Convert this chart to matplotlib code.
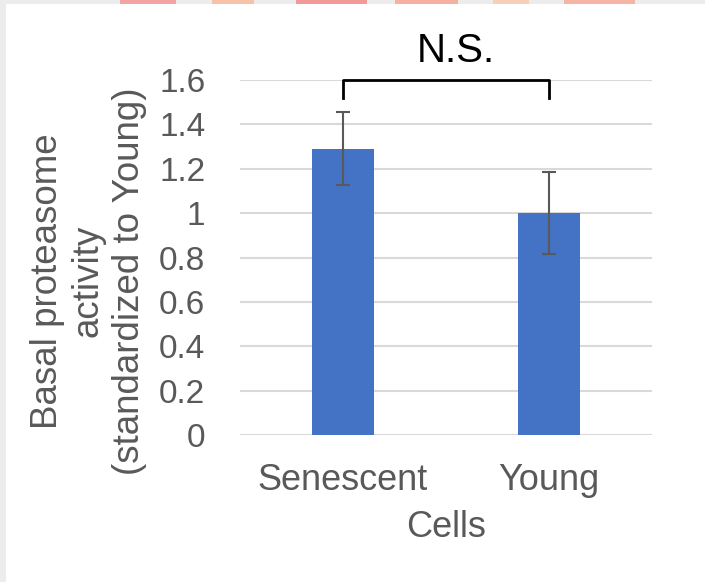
import matplotlib.pyplot as plt
from matplotlib.patches import Rectangle

plt.rcParams['font.family'] = ['Liberation Sans', 'DejaVu Sans']

categories = ['Senescent', 'Young']
activity = [1.29, 1.00]
errors = [0.165, 0.185]
yticks = [0, 0.2, 0.4, 0.6, 0.8, 1, 1.2, 1.4, 1.6]
ytick_labels = ['0', '0.2', '0.4', '0.6', '0.8', '1', '1.2', '1.4', '1.6']

grey = '#595959'

fig = plt.figure(figsize=(7.05, 5.82), dpi=100, facecolor='#ececec')
# white page area with a strip of the decorative header above it
fig.patches.append(Rectangle((6 / 705, 0), 1, 1 - 4 / 582, transform=fig.transFigure,
                             facecolor='white', edgecolor='none', zorder=-10))
for x0, w, c in [(0.17, 0.08, '#f4a3a3'), (0.30, 0.06, '#f7c3a8'), (0.42, 0.10, '#f29a9a'),
                 (0.56, 0.09, '#f6b0a0'), (0.70, 0.05, '#f8d0b8'), (0.80, 0.10, '#f5b5a5')]:
    fig.patches.append(Rectangle((x0, 1 - 4 / 582), w, 4 / 582, transform=fig.transFigure,
                                 facecolor=c, edgecolor='none', zorder=-10))

ax = fig.add_axes([240 / 705, 147 / 582, 412 / 705, 355 / 582])
ax.set_facecolor('none')

x = list(range(len(categories)))
ax.bar(x, activity, width=0.305, color='#4472C4', zorder=2)
ax.errorbar(x, activity, yerr=errors, fmt='none', ecolor=grey, elinewidth=1.5,
            capsize=5, capthick=1.5, zorder=3)

ax.set_xlim(-0.5, 1.5)
ax.set_ylim(0, 1.6)
ax.set_yticks(yticks)
ax.set_yticklabels(ytick_labels)
ax.set_xticks(x)
ax.set_xticklabels(categories)
ax.tick_params(axis='y', length=0, labelsize=24, labelcolor=grey, pad=25)
ax.tick_params(axis='x', length=0, labelsize=26, labelcolor=grey, pad=20)
ax.grid(axis='y', color='#d9d9d9', linewidth=1.5, zorder=0)
ax.set_axisbelow(True)
for s in ax.spines.values():
    s.set_visible(False)

ax.set_xlabel('Cells', fontsize=26, color=grey, labelpad=9)
ax.set_ylabel('Basal proteasome\nactivity\n(standardized to Young)', fontsize=26.5,
              color=grey, linespacing=1.22)
ax.yaxis.set_label_coords(-0.226, 0.434)

# significance bracket
ax.plot([0, 0, 1, 1], [1.52, 1.6, 1.6, 1.52], color='black', linewidth=2,
        clip_on=False, zorder=4)
ax.text(0.55, 1.68, 'N.S.', ha='center', va='baseline', fontsize=29, color='black')

fig.savefig('out.png', dpi=100, facecolor=fig.get_facecolor())
